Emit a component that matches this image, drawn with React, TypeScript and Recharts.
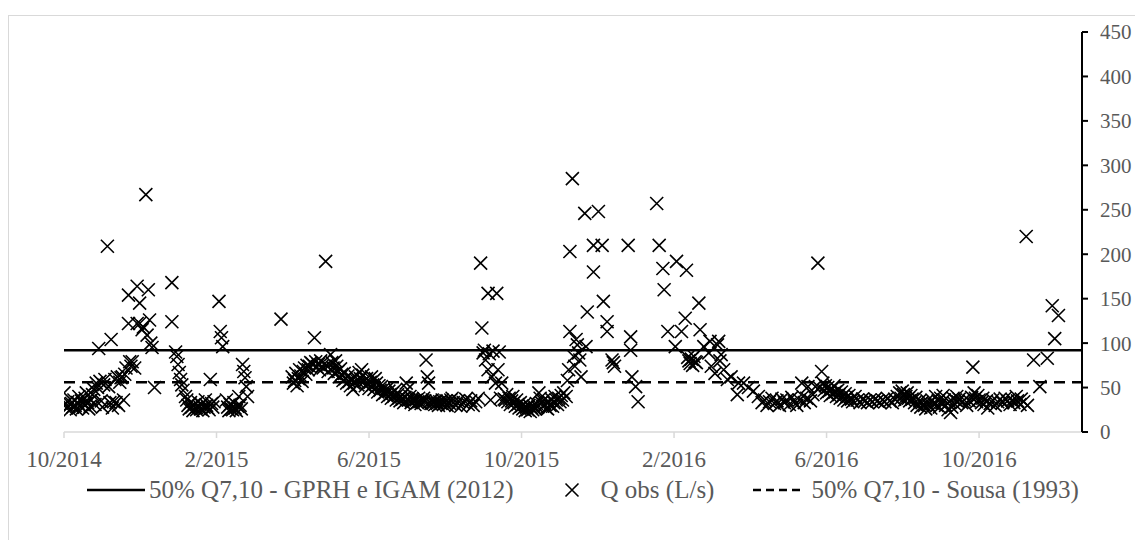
import { ScatterChart, Scatter, XAxis, YAxis, Legend } from "recharts"

// dias contados a partir de 01/10/2014, vazão observada em L/s
const observacoes: [number, number][] = [
  [0, 44], [1, 31], [2, 27], [3, 34], [4, 29], [5, 25], [6, 32], [7, 28], [8, 36], [9, 30],
  [10, 26], [11, 33], [12, 40], [13, 29], [14, 35], [15, 27], [16, 31], [17, 38], [18, 44], [19, 33],
  [20, 26], [21, 29], [22, 36], [23, 42], [24, 48], [25, 31], [26, 55], [27, 50], [28, 94], [29, 57],
  [30, 35], [31, 28], [32, 53], [33, 59], [35, 209], [36, 51], [37, 33], [38, 104], [39, 27], [40, 34],
  [41, 59], [42, 33], [43, 62], [44, 30], [45, 56], [46, 61], [47, 62], [48, 36], [49, 65], [50, 72],
  [52, 154], [52, 122], [53, 79], [54, 74], [55, 79], [57, 72], [59, 164], [59, 122], [61, 145], [61, 122],
  [63, 115], [64, 118], [66, 267], [67, 109], [68, 160], [69, 126], [70, 100], [71, 95], [73, 50],
  [87, 168], [87, 124], [90, 90], [91, 85], [92, 76], [93, 67], [94, 59], [95, 53], [96, 47], [98, 40],
  [99, 36], [100, 30], [101, 26], [102, 33], [103, 28], [104, 24], [105, 31], [106, 27], [107, 25], [108, 34],
  [109, 29], [110, 26], [111, 31], [112, 24], [113, 28], [114, 36], [115, 30], [116, 27], [117, 25], [118, 59],
  [119, 32], [120, 28], [121, 34], [125, 147], [126, 113], [127, 106], [128, 96], [131, 36], [132, 28], [133, 24],
  [134, 31], [135, 26], [136, 25], [137, 33], [138, 27], [139, 24], [140, 29], [141, 40], [142, 30], [143, 26],
  [144, 76], [145, 68], [146, 61], [147, 51], [148, 40],
  [175, 127],
  [184, 62], [185, 55], [186, 58], [187, 66], [188, 52], [189, 60], [190, 70], [191, 63], [192, 57], [193, 68],
  [194, 72], [195, 65], [196, 75], [197, 70], [198, 74], [199, 78], [200, 77], [202, 106], [203, 79], [204, 73],
  [205, 76], [206, 70], [207, 80], [208, 74], [209, 72], [211, 192], [212, 75], [213, 68], [215, 87], [216, 78],
  [217, 72], [218, 66], [219, 80], [220, 74], [221, 68], [222, 62], [223, 71], [224, 65], [225, 58], [226, 66],
  [227, 60], [228, 55], [229, 63], [230, 57], [231, 52], [232, 60], [233, 48], [234, 55], [235, 62], [236, 58],
  [237, 53], [238, 67], [239, 60], [240, 70], [241, 64], [242, 57], [243, 52], [244, 60], [245, 55], [246, 49],
  [247, 56], [248, 62], [249, 53], [250, 48], [251, 60], [252, 55], [253, 45], [254, 52], [255, 47], [256, 51],
  [257, 42], [258, 49], [259, 44], [260, 48], [261, 40], [262, 46], [263, 42], [264, 38], [265, 44], [266, 40],
  [267, 47], [268, 36], [269, 42], [270, 38], [271, 35], [272, 40], [273, 37], [274, 33], [275, 39], [276, 55],
  [277, 48], [278, 36], [279, 40], [280, 33], [281, 37], [282, 35], [283, 31], [284, 36], [285, 33], [286, 38],
  [287, 34], [288, 32], [289, 36], [290, 38], [291, 35], [292, 81], [293, 62], [294, 55], [295, 34], [296, 32],
  [297, 36], [298, 33], [299, 31], [300, 35], [301, 32], [302, 30], [303, 34], [304, 32], [305, 36], [306, 31],
  [307, 33], [308, 35], [309, 30], [310, 34], [311, 32], [312, 36], [313, 38], [314, 33], [316, 30], [318, 35],
  [320, 29], [322, 33], [324, 37], [326, 31], [328, 35], [330, 30], [332, 34], [334, 38],
  [336, 190], [337, 117], [338, 89], [339, 92], [340, 81], [342, 156], [342, 70], [343, 88], [344, 36], [345, 62],
  [346, 91], [348, 55], [349, 156], [350, 70], [351, 90], [352, 38], [353, 55], [355, 37],
  [356, 36], [357, 42], [358, 34], [359, 38], [360, 31], [361, 35], [362, 40], [363, 33], [364, 29], [365, 36],
  [366, 31], [367, 27], [368, 33], [369, 29], [370, 26], [371, 31], [372, 24], [373, 28], [374, 25], [375, 30],
  [376, 23], [377, 27], [378, 25], [379, 29], [380, 26], [381, 32], [382, 28], [383, 44], [384, 38], [385, 33],
  [386, 29], [387, 36], [388, 31], [389, 27], [390, 26], [391, 34], [392, 30], [393, 37], [394, 29], [395, 33],
  [396, 40], [397, 36], [398, 31], [399, 38], [400, 34], [401, 41], [402, 36], [403, 44], [405, 40], [406, 58],
  [407, 70], [408, 113], [408, 203], [410, 285], [411, 85], [412, 74], [413, 104], [414, 98], [415, 89], [416, 81],
  [417, 62], [420, 246], [421, 96], [422, 135], [427, 210], [427, 180], [431, 248], [434, 210], [435, 147], [438, 124],
  [438, 113], [442, 81], [443, 78], [444, 74], [455, 210], [457, 107], [457, 92], [458, 62], [461, 51], [463, 34],
  [478, 257], [480, 210], [483, 184], [484, 160], [487, 113], [493, 96], [494, 192], [498, 113], [501, 128], [502, 182],
  [503, 84], [504, 80], [505, 77], [506, 82], [507, 75], [508, 85], [509, 79], [510, 78], [512, 145], [513, 115],
  [516, 96], [520, 89], [521, 102], [522, 74], [525, 66], [527, 98], [528, 102], [529, 80], [530, 87], [532, 70],
  [535, 59], [538, 62], [543, 42], [544, 55], [548, 55], [552, 50], [556, 46], [560, 40], [563, 33],
  [565, 36], [567, 30], [569, 34], [571, 38], [573, 32], [575, 35], [577, 30], [579, 37], [581, 33], [583, 36],
  [585, 31], [587, 39], [589, 34], [591, 30], [593, 36], [595, 55], [596, 40], [597, 33], [599, 38], [600, 51],
  [602, 35], [604, 42], [606, 51], [608, 190], [609, 50], [611, 68], [612, 55], [613, 47], [614, 52], [615, 44],
  [616, 50], [617, 46], [618, 41], [619, 48], [620, 43], [621, 52], [622, 45], [623, 40], [624, 47], [625, 42],
  [626, 38], [627, 45], [628, 40], [629, 36], [630, 43], [631, 39], [632, 35], [633, 41], [635, 37], [636, 34],
  [638, 40], [640, 36], [642, 33], [644, 37], [646, 35], [648, 33], [650, 36], [652, 34], [654, 37], [656, 35],
  [658, 33], [660, 36], [662, 34], [664, 38], [666, 35], [668, 33], [670, 37], [672, 40], [674, 44], [675, 38],
  [676, 46], [677, 42], [678, 36], [679, 40], [680, 44], [681, 38], [682, 35], [683, 41], [684, 37], [686, 33],
  [687, 39], [688, 30], [690, 35], [691, 28], [692, 33], [694, 30], [695, 26], [696, 35], [697, 31], [699, 27],
  [700, 36], [701, 32], [703, 40], [704, 30], [705, 35], [706, 28], [707, 38], [708, 33], [709, 41], [710, 36],
  [711, 30], [713, 25], [714, 34], [715, 22], [716, 28], [717, 38], [718, 32], [719, 36], [720, 40], [721, 34],
  [722, 37], [724, 33], [726, 36], [728, 30], [730, 35], [732, 39], [733, 73], [734, 44], [735, 38], [736, 34],
  [737, 41], [738, 36], [740, 33], [741, 38], [742, 31], [744, 35], [745, 27], [747, 32], [749, 36], [751, 30],
  [753, 34], [755, 37], [757, 33], [759, 38], [761, 35], [763, 31], [765, 36], [766, 33], [768, 40], [769, 35],
  [771, 31], [772, 37], [774, 34], [776, 220], [777, 30],
  [782, 81], [787, 51], [793, 83], [797, 142], [799, 105], [802, 131]
]

// 50% da Q7,10 segundo cada estudo (L/s)
const q710Gprh = 92
const q710Sousa = 56

const inicioEixo = 0
const fimEixo = 821
const ticksX = [0, 123, 246, 369, 492, 615, 738]
const rotulosX = ["10/2014", "2/2015", "6/2015", "10/2015", "2/2016", "6/2016", "10/2016"]
const ticksY = [0, 50, 100, 150, 200, 250, 300, 350, 400, 450]

const FONTE = "'Liberation Serif', 'Times New Roman', serif"
const CINZA = "#595959"

const dadosObs = observacoes.map(([dia, q]) => ({ dia, q }))
const linhaGprh = [
  { dia: inicioEixo, q: q710Gprh },
  { dia: fimEixo, q: q710Gprh }
]
const linhaSousa = [
  { dia: inicioEixo, q: q710Sousa },
  { dia: fimEixo, q: q710Sousa }
]

function Xis(props: any) {
  const { cx, cy } = props
  const s = 6.5
  return (
    <path
      d={`M${cx - s},${cy - s}L${cx + s},${cy + s}M${cx - s},${cy + s}L${cx + s},${cy - s}`}
      stroke="#000"
      strokeWidth={1.6}
      fill="none"
    />
  )
}

function Nada() {
  return <g />
}

function Legenda() {
  return (
    <div
      style={{
        display: "flex",
        alignItems: "center",
        paddingLeft: 78,
        paddingTop: 4,
        fontFamily: FONTE,
        fontSize: 25,
        color: CINZA,
        whiteSpace: "nowrap"
      }}
    >
      <svg width={58} height={10}>
        <line x1={0} y1={5} x2={58} y2={5} stroke="#000" strokeWidth={2.5} />
      </svg>
      <span style={{ marginLeft: 4 }}>50% Q7,10 - GPRH e IGAM (2012)</span>
      <svg width={16} height={16} style={{ marginLeft: 50 }}>
        <path d="M1.5,1.5L14.5,14.5M1.5,14.5L14.5,1.5" stroke="#000" strokeWidth={1.6} />
      </svg>
      <span style={{ marginLeft: 21 }}>Q obs (L/s)</span>
      <svg width={50} height={10} style={{ marginLeft: 39 }}>
        <line x1={0} y1={5} x2={50} y2={5} stroke="#000" strokeWidth={2.5} strokeDasharray="8 5" />
      </svg>
      <span style={{ marginLeft: 8 }}>50% Q7,10 - Sousa (1993)</span>
    </div>
  )
}

export default function App() {
  return (
    <div
      style={{
        position: "absolute",
        left: 8,
        top: 15,
        width: 1127,
        height: 525,
        boxSizing: "border-box",
        borderLeft: "1px solid #d9d9d9",
        borderTop: "1px solid #d9d9d9",
        background: "#fff",
        overflow: "hidden"
      }}
    >
      <ScatterChart
        width={1126}
        height={524}
        margin={{ top: 16, right: 0, bottom: 18, left: 55 }}
      >
        <XAxis
          type="number"
          dataKey="dia"
          domain={[inicioEixo, fimEixo]}
          ticks={ticksX}
          tickFormatter={(v: number) => rotulosX[ticksX.indexOf(v)] ?? ""}
          allowDataOverflow
          height={40}
          stroke="#d9d9d9"
          strokeWidth={1.5}
          tickSize={6}
          tickMargin={13}
          tick={{ fill: CINZA, fontSize: 23, fontFamily: FONTE }}
        />
        <YAxis
          type="number"
          dataKey="q"
          orientation="right"
          domain={[0, 450]}
          ticks={ticksY}
          width={53}
          stroke="#000"
          strokeWidth={2}
          tickSize={6}
          tickMargin={12}
          tick={{ fill: CINZA, fontSize: 21, fontFamily: FONTE, textAnchor: "start" }}
        />
        <Legend verticalAlign="bottom" height={50} wrapperStyle={{ left: 0, width: 1126 }} content={<Legenda />} />
        <Scatter
          name="50% Q7,10 - GPRH e IGAM (2012)"
          data={linhaGprh}
          line={{ stroke: "#000", strokeWidth: 2.5 }}
          shape={<Nada />}
          isAnimationActive={false}
        />
        <Scatter
          name="50% Q7,10 - Sousa (1993)"
          data={linhaSousa}
          line={{ stroke: "#000", strokeWidth: 2.5, strokeDasharray: "11 7" }}
          shape={<Nada />}
          isAnimationActive={false}
        />
        <Scatter
          name="Q obs (L/s)"
          data={dadosObs}
          shape={<Xis />}
          isAnimationActive={false}
        />
      </ScatterChart>
    </div>
  )
}
